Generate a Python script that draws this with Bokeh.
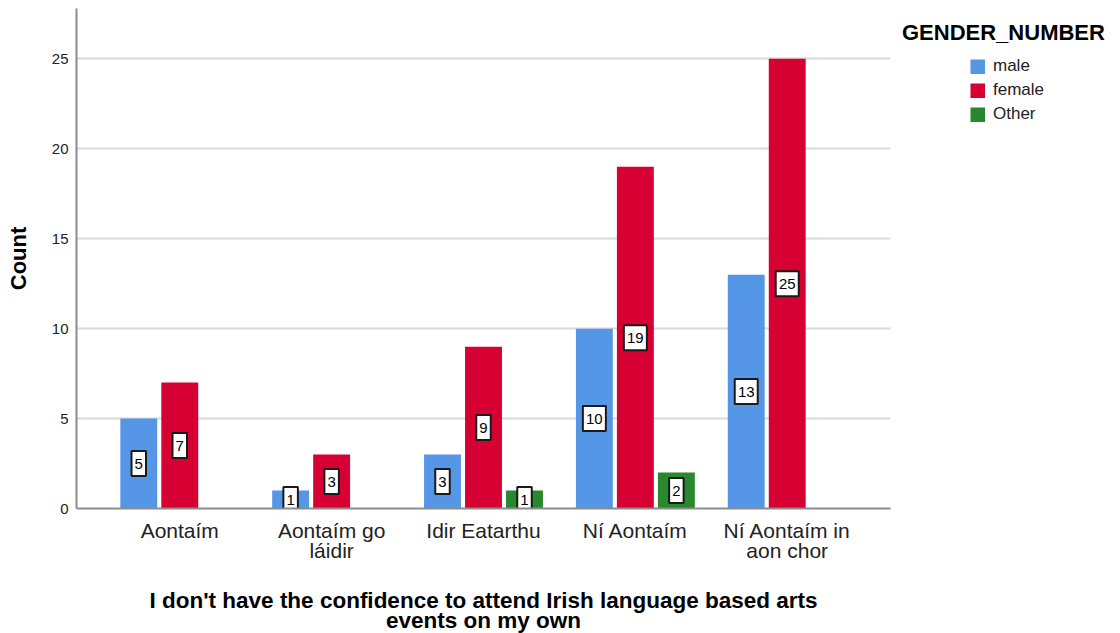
import numpy as np
from bokeh.plotting import figure
from bokeh.models import (ColumnDataSource, FactorRange, Range1d, Legend, LegendItem,
                          FixedTicker)
from bokeh.transform import dodge
from bokeh.core.properties import value
from bokeh.embed import file_html
from bokeh.resources import INLINE

# ---- data ----
categories = ["Aontaím", "Aontaím go\nláidir", "Idir Eatarthu", "Ní Aontaím", "Ní Aontaím in\naon chor"]
genders = ["male", "female", "Other"]
male = [5, 1, 3, 10, 13]
female = [7, 3, 9, 19, 25]
other = [0, 0, 1, 2, 0]
y_ticks = [0, 5, 10, 15, 20, 25]
x_title = "I don't have the confidence to attend Irish language based arts\nevents on my own"
y_title = "Count"
legend_title = "GENDER_NUMBER"

# ---- style ----
colors = ["#5596E6", "#D60032", "#29872D"]
offsets = [-0.27, 0.0, 0.27]
FONT = "Liberation Sans"

p = figure(frame_width=814, frame_height=500,
           x_range=FactorRange(factors=categories, range_padding=0.072),
           y_range=Range1d(0, 27.8),
           output_backend="svg", toolbar_location=None,
           min_border_left=76, min_border_right=0, min_border_top=8, min_border_bottom=125)

p.outline_line_color = None
p.xgrid.grid_line_color = None
p.ygrid.grid_line_color = "#d9d9d9"
p.ygrid.grid_line_width = 2

p.yaxis.ticker = FixedTicker(ticks=y_ticks)
for ax in (p.xaxis[0], p.yaxis[0]):
    ax.axis_line_color = "#8c8c8c"
    ax.axis_line_width = 2
    ax.major_tick_line_color = None
    ax.minor_tick_line_color = None
    ax.major_tick_out = 0
    ax.major_tick_in = 0
    ax.minor_tick_out = 0
    ax.minor_tick_in = 0
    ax.major_label_text_font = FONT
    ax.major_label_text_color = "#222222"
    ax.axis_label_text_font = FONT
    ax.axis_label_text_font_style = "bold"
    ax.axis_label_text_color = "black"

p.yaxis.major_label_text_font_size = "15px"
p.yaxis.major_label_standoff = 8
p.yaxis.axis_label = y_title
p.yaxis.axis_label_text_font_size = "22px"
p.yaxis.axis_label_standoff = 18

p.xaxis.major_label_text_font_size = "21px"
p.xaxis.major_label_text_line_height = 0.9
p.xaxis.major_label_standoff = 10
p.xaxis.axis_label = x_title
p.xaxis.axis_label_text_font_size = "22.5px"
p.xaxis.axis_label_text_line_height = 0.8
p.xaxis.axis_label_standoff = 23

items = []
for i, (g, vals) in enumerate(zip(genders, [male, female, other])):
    src = ColumnDataSource(dict(cat=categories, val=vals))
    p.vbar(x=dodge("cat", offsets[i], range=p.x_range), top="val", width=0.243,
           source=src, fill_color=colors[i], line_color=None)

    # legend key: a thick dashed line (no visible points) whose single dash
    # forms an indented square swatch in the legend
    ksrc = ColumnDataSource(dict(cat=categories, nan=np.full(len(categories), np.nan)))
    key = p.line(x="cat", y="nan", source=ksrc, line_color=colors[i], line_width=15,
                 line_dash="0 68 15 300")
    items.append(LegendItem(label=g, renderers=[key]))

    idx = [j for j, v in enumerate(vals) if v > 0]
    labs = [str(vals[j]) for j in idx]
    lsrc = ColumnDataSource(dict(cat=[categories[j] for j in idx],
                                 mid=[vals[j] / 2 for j in idx],
                                 lab=labs,
                                 w=[6 + 8.5 * len(s) for s in labs]))
    p.rect(x=dodge("cat", offsets[i], range=p.x_range), y="mid", width="w", height=25,
           width_units="screen", height_units="screen", source=lsrc,
           fill_color="white", line_color="#1a1a1a", line_width=2)
    p.text(x=dodge("cat", offsets[i], range=p.x_range), y="mid", text="lab", source=lsrc,
           text_align="center", text_baseline="middle", text_font=value(FONT),
           text_font_size="15px", text_color="black")

legend = Legend(items=items, location="top_left", title=legend_title,
                title_text_font=FONT, title_text_font_size="22px",
                title_text_font_style="bold", title_text_color="black", title_standoff=10,
                glyph_width=83, glyph_height=15,
                label_height=20, spacing=4, padding=0, margin=12,
                border_line_color=None, background_fill_alpha=0,
                label_text_font=FONT, label_text_font_size="17px",
                label_text_color="#222222", label_standoff=8)
p.add_layout(legend, "right")

open("out.html", "w").write(file_html(p, INLINE))
